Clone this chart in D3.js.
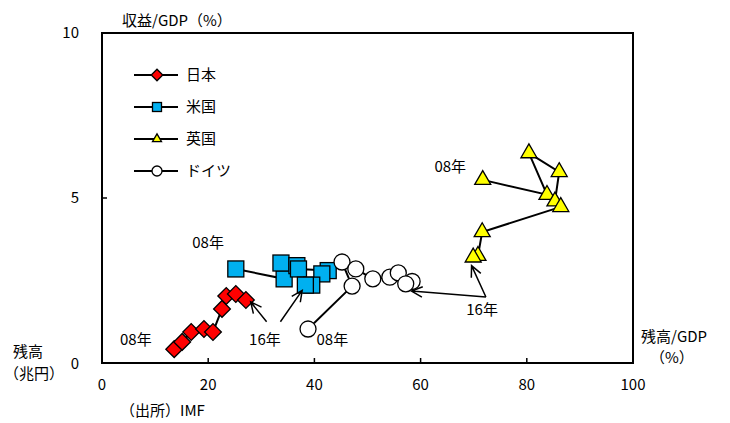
<!DOCTYPE html>
<html>
<head>
<meta charset="utf-8">
<script src="https://cdn.jsdelivr.net/npm/d3@7"></script>
<style>
  body { margin: 0; background: #fff; }
  text { font-family: "Noto Sans CJK JP", sans-serif; font-size: 15px; fill: #000; }
</style>
</head>
<body>
<div id="chart"></div>
<script>
// data: [残高/GDP, 収益/GDP], 2008 -> 2016
var japan   = [[13.6,0.42],[15.1,0.64],[16.8,0.94],[19.2,1.03],[20.9,0.94],[22.6,1.64],[23.4,2.03],[25.2,2.09],[27.1,1.91]];
var usa     = [[25.2,2.85],[34.3,2.55],[33.7,3.03],[36.7,2.95],[37.0,2.85],[42.6,2.8],[41.4,2.7],[39.5,2.36],[38.3,2.36]];
var uk      = [[71.7,5.55],[83.8,5.1],[80.4,6.36],[86.1,5.79],[85.3,4.9],[86.4,4.73],[71.6,3.97],[70.8,3.25],[69.9,3.2]];
var germany = [[38.8,1.03],[47.1,2.33],[45.2,3.06],[47.8,2.85],[51.0,2.55],[54.2,2.6],[55.8,2.73],[58.4,2.47],[57.2,2.4]];

var names = ["日本", "米国", "英国", "ドイツ"];
var xTicks = [0, 20, 40, 60, 80, 100];
var yTicks = [0, 5, 10];

var width = 730, height = 423;
var margin = ({top: 33, right: 97, bottom: 60, left: 102});

var x = d3.scaleLinear().domain([0, 100]).range([margin.left, width - margin.right]);
var y = d3.scaleLinear().domain([0, 10]).range([height - margin.bottom, margin.top]);

var svg = d3.select("#chart").append("svg")
    .attr("width", width)
    .attr("height", height);

// marker styles per series
var series = [
  {data: japan,   fill: "#ff0000", shape: "diamond"},
  {data: usa,     fill: "#00b0f0", shape: "square"},
  {data: uk,      fill: "#ffff00", shape: "triangle"},
  {data: germany, fill: "#ffffff", shape: "circle"}
];

function marker(g, shape, fill, s) {
  var m;
  if (shape == "diamond") {
    m = g.append("rect").attr("x", -s * 0.37).attr("y", -s * 0.37)
      .attr("width", s * 0.74).attr("height", s * 0.74).attr("transform", "rotate(45)");
  } else if (shape == "square") {
    m = g.append("rect").attr("x", -s / 2).attr("y", -s / 2).attr("width", s).attr("height", s);
  } else if (shape == "triangle") {
    m = g.append("path").attr("d", d3.symbol(d3.symbolTriangle, Math.sqrt(3) / 4 * s * s)());
  } else {
    m = g.append("circle").attr("r", s / 2);
  }
  m.attr("fill", fill).attr("stroke", "#000").attr("stroke-width", 1.3);
}

var line = d3.line().x(d => x(d[0])).y(d => y(d[1]));

series.forEach(function(s) {
  svg.append("path")
    .attr("d", line(s.data))
    .attr("fill", "none")
    .attr("stroke", "#000")
    .attr("stroke-width", 2);
});

series.forEach(function(s) {
  s.data.forEach(function(d) {
    var g = svg.append("g").attr("transform", `translate(${x(d[0])},${y(d[1])})`);
    marker(g, s.shape, s.fill, 16);
  });
});

// frame
svg.append("rect")
  .attr("x", x(0)).attr("y", y(10))
  .attr("width", x(100) - x(0)).attr("height", y(0) - y(10))
  .attr("fill", "none").attr("stroke", "#000").attr("stroke-width", 2);

// ticks (inside)
svg.selectAll(".xt").data(xTicks.slice(1, -1)).join("line")
  .attr("x1", d => x(d)).attr("x2", d => x(d))
  .attr("y1", y(0)).attr("y2", y(0) - 5)
  .attr("stroke", "#000").attr("stroke-width", 1.5);
svg.selectAll(".yt").data(yTicks.slice(1, -1)).join("line")
  .attr("x1", x(0)).attr("x2", x(0) + 5)
  .attr("y1", d => y(d)).attr("y2", d => y(d))
  .attr("stroke", "#000").attr("stroke-width", 1.5);

svg.selectAll(".xl").data(xTicks).join("text")
  .attr("x", d => x(d)).attr("y", y(0) + 27)
  .attr("text-anchor", "middle")
  .text(d => d);
svg.selectAll(".yl").data(yTicks).join("text")
  .attr("x", 79).attr("y", d => y(d) + 5 + (d == 0 ? 1 : 0))
  .attr("text-anchor", "end")
  .text(d => d);

// axis titles
svg.append("text").attr("x", 122).attr("y", 26).text("収益/GDP（%）");
svg.append("text").attr("x", 28).attr("y", 357).attr("text-anchor", "middle").text("残高");
svg.append("text").attr("x", 34).attr("y", 379).attr("text-anchor", "middle").text("（兆円）");
svg.append("text").attr("x", 641).attr("y", 342).text("残高/GDP");
svg.append("text").attr("x", 650).attr("y", 363).text("（%）");
svg.append("text").attr("x", 120).attr("y", 416).text("（出所）IMF");

// legend
var legY = [75, 107, 139, 171];
series.forEach(function(s, i) {
  svg.append("line")
    .attr("x1", 134).attr("x2", 178).attr("y1", legY[i]).attr("y2", legY[i])
    .attr("stroke", "#000").attr("stroke-width", 2);
  var g = svg.append("g").attr("transform", `translate(157,${legY[i]})`);
  marker(g, s.shape, s.fill, s.shape == "circle" ? 10 : (s.shape == "diamond" ? 11 : 9));
  svg.append("text").attr("x", 186).attr("y", legY[i] + 5).text(names[i]);
});

// year labels
var labels = [
  {t: "08年", p: [3.4, 0.55]},
  {t: "08年", p: [17.0, 3.5]},
  {t: "08年", p: [40.4, 0.56]},
  {t: "08年", p: [62.6, 5.8]},
  {t: "16年", p: [27.7, 0.56]},
  {t: "16年", p: [68.6, 1.45]}
];
svg.selectAll(".yr").data(labels).join("text")
  .attr("x", d => x(d.p[0])).attr("y", d => y(d.p[1]))
  .text(d => d.t);

// arrows: from -> to (data coordinates)
var arrows = [
  [[31.0, 1.25], [28.0, 1.85]],
  [[33.6, 1.25], [37.7, 2.2]],
  [[72.3, 2.0], [69.6, 2.95]],
  [[72.3, 2.0], [58.3, 2.18]]
];
arrows.forEach(function(a) {
  var x1 = x(a[0][0]), y1 = y(a[0][1]), x2 = x(a[1][0]), y2 = y(a[1][1]);
  var ang = Math.atan2(y2 - y1, x2 - x1), L = 12, w = 0.45;
  svg.append("path")
    .attr("d", `M${x1},${y1}L${x2},${y2}` +
      `M${x2 - L * Math.cos(ang - w)},${y2 - L * Math.sin(ang - w)}L${x2},${y2}` +
      `L${x2 - L * Math.cos(ang + w)},${y2 - L * Math.sin(ang + w)}`)
    .attr("fill", "none").attr("stroke", "#000").attr("stroke-width", 1.5);
});
</script>
</body>
</html>
